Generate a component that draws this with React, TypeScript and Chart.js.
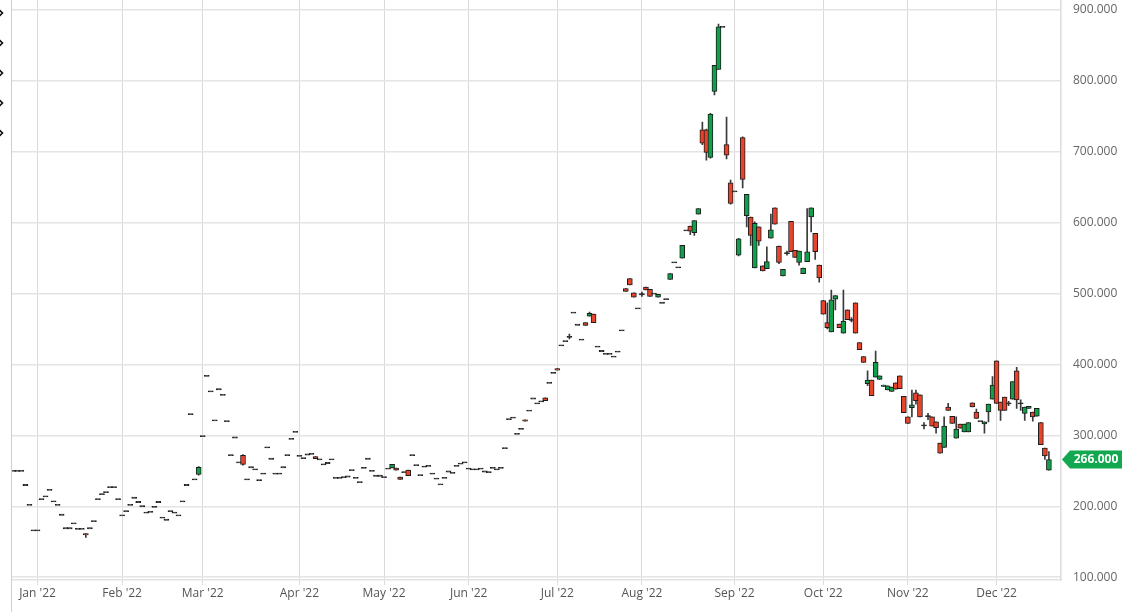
import React, { useEffect, useRef } from "react";
import { Chart, registerables } from "chart.js";

Chart.register(...registerables);

// Daily candles (weekday index 0 = 24 Dec 2021)
const opens = [
  250,250,250,230,202,166,166,210,214,223,
  207,202,188,169,169,176,168,168,161,169,
  179,210,217,220,227,227,210,187,193,202,
  212,206,200,191,192,199,206,184,181,193,
  191,187,207,230,330,238,245,299,384,362,
  321,365,357,320,272,297,262,272,238,255,
  252,237,246,283,267,246,246,255,272,295,
  305,271,268,273,274,270,266,259,261,266,
  240,240,241,242,251,240,234,254,267,250,
  243,243,241,253,254,254,241,248,251,272,
  258,244,256,257,246,239,231,240,249,247,
  257,260,262,253,252,252,253,249,248,254,
  252,254,282,323,325,302,309,322,335,352,
  345,348,353,374,388,394,427,433,439,473,
  456,435,459,468,471,425,419,415,415,411,
  418,448,507,521,501,479,499,509,506,500,
  495,487,492,520,544,537,550,589,595,586,
  612,731,731,692,785,816,876,710,656,644,
  554,720,610,608,536,594,539,535,578,621,
  567,525,557,602,561,544,528,545,608,585,
  540,490,459,446,492,457,444,477,463,487,
  431,411,373,378,382,379,369,364,362,374,
  384,355,326,339,360,357,314,327,326,319,
  289,283,340,327,296,316,305,305,346,333,
  320,316,333,351,405,347,354,345,351,391,
  345,331,338,333,327,318,282,251,
];

const highs = [
  250,250,250,230,202,166,166,210,214,223,
  207,202,188,169,169,176,168,168,161,169,
  179,210,217,220,227,227,210,187,193,202,
  212,206,200,191,192,199,206,184,181,193,
  191,187,207,230,330,238,256,299,384,362,
  321,365,357,320,272,297,262,273,238,255,
  252,237,246,283,267,246,246,255,272,295,
  305,271,268,273,274,270,266,259,261,266,
  240,240,241,242,251,240,234,254,267,250,
  243,243,241,253,259,254,241,248,251,272,
  258,244,256,257,246,239,231,240,249,247,
  257,260,262,253,252,252,253,249,248,254,
  252,254,282,323,325,302,309,322,335,352,
  345,348,353,374,388,394,427,433,443,473,
  456,435,459,474,471,425,419,415,415,411,
  418,448,507,521,501,479,502,509,506,500,
  499,487,492,528,544,537,568,589,595,603,
  620,742,732,754,822,880,876,749,660,644,
  578,721,640,608,601,594,539,566,612,621,
  567,534,560,602,561,560,536,620,621,585,
  540,490,487,505,497,457,505,477,466,487,
  431,411,391,378,419,384,371,370,368,374,
  384,355,326,364,364,357,318,331,326,319,
  289,326,345,327,326,316,316,318,346,337,
  320,319,344,383,405,347,354,348,376,396,
  350,340,341,333,338,318,282,277,
];

const lows = [
  250,250,250,230,202,166,166,210,214,223,
  207,202,188,169,169,176,168,168,156,169,
  179,210,217,220,227,227,210,187,193,202,
  212,206,200,191,192,199,206,184,181,193,
  191,187,207,230,330,238,244,299,384,362,
  321,365,357,320,272,297,262,258,238,255,
  252,237,246,283,267,246,246,255,272,295,
  305,271,268,273,274,267,266,259,261,266,
  240,240,241,242,251,240,234,254,267,250,
  243,243,241,253,254,251,238,248,243,272,
  258,244,256,257,246,239,231,240,249,247,
  257,260,262,253,252,252,253,249,248,254,
  252,254,282,323,325,302,309,320,335,352,
  345,348,349,374,388,392,427,433,436,473,
  456,435,455,468,459,425,419,415,415,411,
  418,448,503,512,495,479,496,505,496,500,
  495,487,492,520,544,537,550,589,583,582,
  612,710,688,691,780,816,876,690,626,644,
  553,649,594,568,536,568,532,535,578,598,
  542,525,554,559,551,540,528,545,587,548,
  516,471,450,446,477,452,444,463,460,444,
  421,403,370,356,382,379,369,364,362,365,
  366,332,317,326,344,326,309,322,313,303,
  275,283,335,317,296,310,305,305,340,324,
  320,303,319,351,345,321,335,342,351,338,
  335,321,338,320,327,287,266,251,
];

const closes = [
  250,250,250,230,202,166,166,210,214,223,
  207,202,188,169,169,176,168,168,160,169,
  179,210,217,220,227,227,210,187,193,202,
  212,206,200,191,192,199,206,184,181,193,
  191,187,207,230,330,238,255,299,384,362,
  321,365,357,320,272,297,262,259,238,255,
  252,237,246,283,267,246,246,255,272,295,
  305,271,268,273,274,267,266,259,261,266,
  240,240,241,242,251,240,234,254,267,250,
  243,243,241,253,259,251,238,248,243,272,
  258,244,256,257,246,239,231,240,249,247,
  257,260,262,253,252,252,253,249,248,254,
  252,254,282,323,325,302,309,320,335,352,
  345,348,349,374,388,392,427,433,439,473,
  456,435,455,472,459,425,419,415,415,411,
  418,448,503,512,495,479,499,505,496,500,
  499,487,492,528,544,537,568,589,588,603,
  620,712,699,753,822,876,876,695,627,644,
  577,661,640,582,599,574,532,545,590,598,
  544,534,557,559,551,560,536,559,621,559,
  522,471,452,491,497,452,461,463,463,444,
  421,403,378,356,403,384,371,370,368,365,
  366,332,317,343,349,326,314,327,313,311,
  275,313,335,317,309,310,316,318,340,324,
  320,319,344,371,345,335,335,345,376,350,
  345,340,341,326,338,287,271,266,
];

// Month tick positions (weekday index) and labels
const monthIdx = [6, 27, 47, 71, 92, 113, 135, 156, 179, 201, 222, 244];
const monthLabels = ["Jan '22", "Feb '22", "Mar '22", "Apr '22", "May '22", "Jun '22", "Jul '22", "Aug '22", "Sep '22", "Oct '22", "Nov '22", "Dec '22"];
const yTicks = [100, 200, 300, 400, 500, 600, 700, 800, 900];

const UP = "#10a04c";
const DOWN = "#e8432b";
const FLAT = "#2a2a2a";

export default function App() {
  const ref = useRef<HTMLCanvasElement | null>(null);

  useEffect(() => {
    if (!ref.current) return;
    Chart.defaults.font.family = "'Open Sans', sans-serif";

    const n = opens.length;
    const wicks: any[] = [];
    const bodies: any[] = [];
    const bodyColors: string[] = [];
    for (let i = 0; i < n; i++) {
      if (highs[i] > lows[i]) wicks.push({ x: i, y: [lows[i], highs[i]] });
      let lo = Math.min(opens[i], closes[i]);
      let hi = Math.max(opens[i], closes[i]);
      if (hi - lo < 1.6) {
        const m = (hi + lo) / 2;
        lo = m - 0.8;
        hi = m + 0.8;
      }
      bodies.push({ x: i, y: [lo, hi] });
      bodyColors.push(closes[i] > opens[i] ? UP : closes[i] < opens[i] ? DOWN : FLAT);
    }

    const extras = {
      id: "extras",
      afterDraw(chart: any) {
        const ctx = chart.ctx;
        const area = chart.chartArea;
        ctx.save();
        // left frame line
        ctx.strokeStyle = "#cfcfcf";
        ctx.lineWidth = 1;
        ctx.beginPath();
        ctx.moveTo(11.5, 0);
        ctx.lineTo(11.5, 612);
        ctx.stroke();
        // left chevrons
        ctx.strokeStyle = "#111";
        ctx.lineWidth = 1.6;
        [13, 43, 73, 103, 133].forEach((yy) => {
          ctx.beginPath();
          ctx.moveTo(-0.5, yy - 3);
          ctx.lineTo(2.5, yy);
          ctx.lineTo(-0.5, yy + 3);
          ctx.stroke();
        });
        // last price tag
        const last = closes[n - 1];
        const y = chart.scales.y.getPixelForValue(last);
        const x0 = area.right + 1;
        ctx.fillStyle = "#12a84f";
        ctx.beginPath();
        ctx.moveTo(x0, y);
        ctx.lineTo(x0 + 8, y - 9);
        ctx.lineTo(x0 + 60, y - 9);
        ctx.lineTo(x0 + 60, y + 9);
        ctx.lineTo(x0 + 8, y + 9);
        ctx.closePath();
        ctx.fill();
        ctx.fillStyle = "#fff";
        ctx.font = "bold 12px 'Open Sans', sans-serif";
        ctx.textAlign = "center";
        ctx.textBaseline = "middle";
        ctx.fillText(last.toFixed(3), x0 + 34, y + 0.5);
        ctx.restore();
      },
    };

    const chart = new Chart(ref.current, {
      type: "bar",
      data: {
        datasets: [
          {
            data: wicks,
            backgroundColor: "#3a3a3a",
            barThickness: 1,
            grouped: false,
            order: 2,
          } as any,
          {
            data: bodies,
            backgroundColor: bodyColors,
            borderColor: "#1c1c1c",
            borderWidth: 1,
            borderSkipped: false,
            barThickness: 5,
            grouped: false,
            order: 1,
          } as any,
        ],
      },
      options: {
        responsive: false,
        animation: false,
        devicePixelRatio: 1,
        layout: { padding: { left: 11.5, top: 0, right: 0, bottom: 0 } },
        plugins: { legend: { display: false }, tooltip: { enabled: false } },
        scales: {
          x: {
            type: "linear",
            min: -0.45,
            max: 260,
            offset: false,
            afterBuildTicks: (scale: any) => {
              scale.ticks = monthIdx.map((v) => ({ value: v }));
            },
            afterFit: (scale: any) => {
              scale.height = 32;
              scale.paddingLeft = 0;
              scale.paddingRight = 0;
            },
            ticks: {
              autoSkip: false,
              maxRotation: 0,
              padding: 1,
              color: "#555",
              font: { size: 12 },
              callback: (_v: any, i: number) => monthLabels[i],
            },
            grid: {
              offset: false,
              color: "#dadada",
              lineWidth: 1,
              drawTicks: true,
              tickLength: 5,
              tickColor: "#dadada",
            },
            border: { display: true, color: "#e2e2e2", width: 1.5 },
          } as any,
          y: {
            position: "right",
            min: 96,
            max: 914,
            afterBuildTicks: (scale: any) => {
              scale.ticks = yTicks.map((v) => ({ value: v }));
            },
            afterFit: (scale: any) => {
              scale.width = 64;
              scale.paddingTop = 0;
              scale.paddingBottom = 0;
            },
            ticks: {
              padding: 12,
              color: "#666",
              font: { size: 12 },
              callback: (v: any) => Number(v).toFixed(3),
            },
            grid: { color: "#e4e4e4", lineWidth: 1.5, drawTicks: false },
            border: { display: true, color: "#dcdcdc", width: 1.5 },
          } as any,
        },
      },
      plugins: [extras],
    });
    return () => chart.destroy();
  }, []);

  return (
    <div style={{ position: "fixed", left: 0, top: 0, width: 1125, height: 612, background: "#fff" }}>
      <canvas ref={ref} width={1125} height={612} style={{ width: 1125, height: 612, display: "block" }} />
    </div>
  );
}
